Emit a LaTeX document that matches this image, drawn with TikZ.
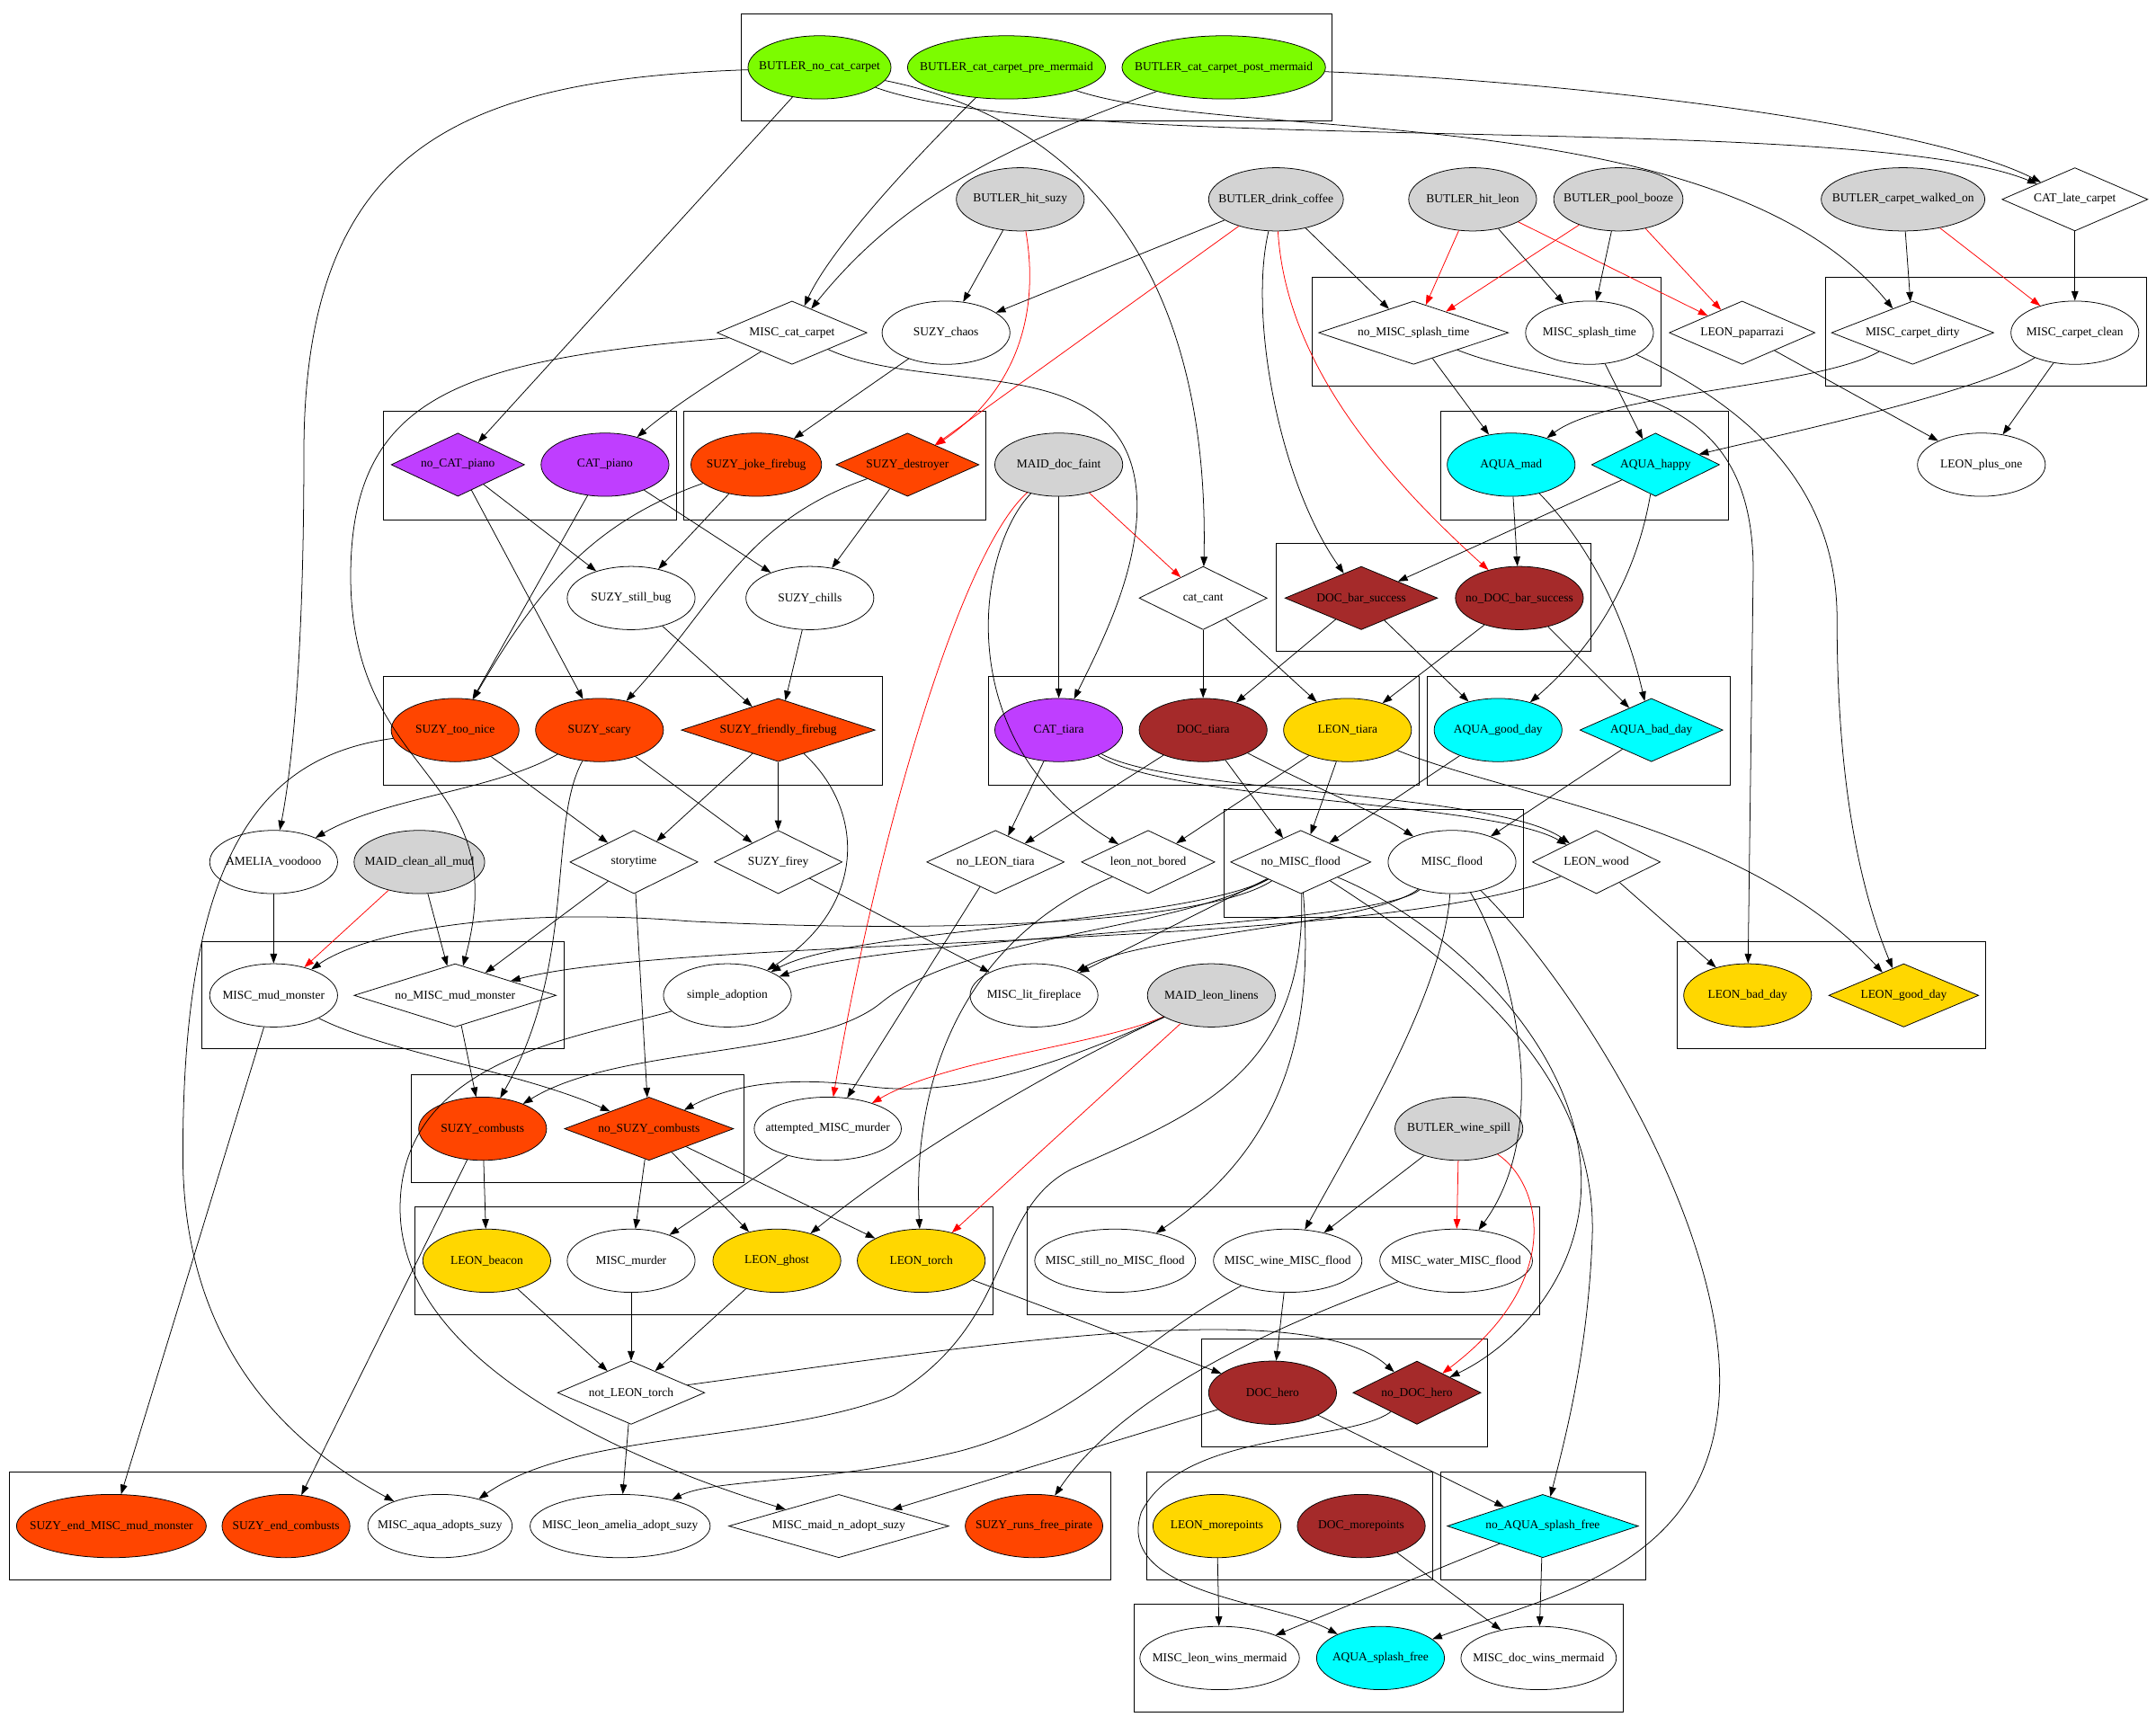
\documentclass[tikz,border=0pt]{standalone}
\usepackage{fontspec}
\setmainfont{Liberation Serif}
\usetikzlibrary{shapes.geometric,arrows.meta}
\definecolor{grn}{HTML}{7CFC00}
\definecolor{gry}{HTML}{D3D3D3}
\definecolor{pur}{HTML}{BF3EFF}
\definecolor{org}{HTML}{FF4500}
\definecolor{brn}{HTML}{A52A2A}
\definecolor{gld}{HTML}{FFD700}
\definecolor{cyn}{HTML}{00FFFF}
\newcommand\lbl[1]{\makebox[0pt]{#1}}
\begin{document}
\begin{tikzpicture}[x=1pt,y=-1pt,
  ell/.style={ellipse,draw,line width=0.5pt,inner sep=0pt,minimum height=46pt,minimum width=93pt,font=\fontsize{8.8}{10}\selectfont},
  dia/.style={diamond,draw,line width=0.5pt,inner sep=0pt,aspect=2,minimum height=46pt,minimum width=93pt,font=\fontsize{8.8}{10}\selectfont},
  cl/.style={draw,line width=0.6pt},
  e/.style={draw,line width=0.5pt,-{Triangle[length=7pt,width=5pt]}},
  r/.style={e,red}]
\fill[white] (0,0) rectangle (1568,1255);
\useasboundingbox (0,0) rectangle (1568,1255);
% clusters
\draw[cl] (539,10) rectangle (969,88);
\draw[cl] (954,202) rectangle (1208,281);
\draw[cl] (1327.5,202) rectangle (1561,281);
\draw[cl] (279,299) rectangle (492,378);
\draw[cl] (497,299) rectangle (717,378);
\draw[cl] (1048,299) rectangle (1257,378);
\draw[cl] (928,395.5) rectangle (1157,474);
\draw[cl] (279,492) rectangle (642,571);
\draw[cl] (719,492) rectangle (1032,571);
\draw[cl] (1038,492) rectangle (1258.5,571);
\draw[cl] (890,588.5) rectangle (1108,667);
\draw[cl] (147,685) rectangle (410,763);
\draw[cl] (1219.5,685) rectangle (1444,763);
\draw[cl] (299,781.5) rectangle (541,860);
\draw[cl] (302,877.6) rectangle (722,956);
\draw[cl] (747,877.6) rectangle (1119.5,956);
\draw[cl] (874,974) rectangle (1082,1052.6);
\draw[cl] (7,1070.5) rectangle (808,1149);
\draw[cl] (834,1070.5) rectangle (1042,1149);
\draw[cl] (1048,1070.5) rectangle (1197,1149);
\draw[cl] (825,1167) rectangle (1180.5,1245);
% nodes
\node[ell,fill=grn,minimum width=104pt] (BNCC) at (596,49) {\lbl{BUTLER\_no\_cat\_carpet}};
\node[ell,fill=grn,minimum width=144pt] (BCPRE) at (732,49) {\lbl{BUTLER\_cat\_carpet\_pre\_mermaid}};
\node[ell,fill=grn,minimum width=148pt] (BCPOST) at (890,49) {\lbl{BUTLER\_cat\_carpet\_post\_mermaid}};
\node[ell,fill=gry] (BHS) at (742,145) {\lbl{BUTLER\_hit\_suzy}};
\node[ell,fill=gry,minimum width=98pt] (BDC) at (928,145) {\lbl{BUTLER\_drink\_coffee}};
\node[ell,fill=gry] (BHL) at (1071,145) {\lbl{BUTLER\_hit\_leon}};
\node[ell,fill=gry,minimum width=94pt] (BPB) at (1177,145) {\lbl{BUTLER\_pool\_booze}};
\node[ell,fill=gry,minimum width=119pt] (BCW) at (1384,145) {\lbl{BUTLER\_carpet\_walked\_on}};
\node[dia,minimum width=106pt] (CLC) at (1509,145) {\lbl{CAT\_late\_carpet}};
\node[dia,minimum width=109pt] (MCC) at (576,242) {\lbl{MISC\_cat\_carpet}};
\node[ell] (SCH) at (688,242) {\lbl{SUZY\_chaos}};
\node[dia,minimum width=138pt] (NMST) at (1028,242) {\lbl{no\_MISC\_splash\_time}};
\node[ell] (MST) at (1156,242) {\lbl{MISC\_splash\_time}};
\node[dia,minimum width=106pt] (LP) at (1267,242) {\lbl{LEON\_paparrazi}};
\node[dia,minimum width=118pt] (MCD) at (1391,242) {\lbl{MISC\_carpet\_dirty}};
\node[ell] (MCCL) at (1509,242) {\lbl{MISC\_carpet\_clean}};
\node[dia,fill=pur,minimum width=97pt] (NCP) at (333,338) {\lbl{no\_CAT\_piano}};
\node[ell,fill=pur] (CP) at (440,338) {\lbl{CAT\_piano}};
\node[ell,fill=org,minimum width=95pt] (SJF) at (550,338) {\lbl{SUZY\_joke\_firebug}};
\node[dia,fill=org,minimum width=104pt] (SD) at (660,338) {\lbl{SUZY\_destroyer}};
\node[ell,fill=gry] (MDF) at (770,338) {\lbl{MAID\_doc\_faint}};
\node[ell,fill=cyn] (AM) at (1099,338) {\lbl{AQUA\_mad}};
\node[dia,fill=cyn] (AH) at (1204,338) {\lbl{AQUA\_happy}};
\node[ell] (LPO) at (1441,338) {\lbl{LEON\_plus\_one}};
\node[ell] (SSB) at (459,435) {\lbl{SUZY\_still\_bug}};
\node[ell] (SCL) at (589,435) {\lbl{SUZY\_chills}};
\node[dia] (CC) at (875,435) {\lbl{cat\_cant}};
\node[dia,fill=brn,minimum width=111pt] (DBS) at (990,435) {\lbl{DOC\_bar\_success}};
\node[ell,fill=brn] (NDBS) at (1105,435) {\lbl{no\_DOC\_bar\_success}};
\node[ell,fill=org] (STN) at (331,531) {\lbl{SUZY\_too\_nice}};
\node[ell,fill=org] (SS) at (436,531) {\lbl{SUZY\_scary}};
\node[dia,fill=org,minimum width=141pt] (SFF) at (566,531) {\lbl{SUZY\_friendly\_firebug}};
\node[ell,fill=pur] (CT) at (770,531) {\lbl{CAT\_tiara}};
\node[ell,fill=brn] (DT) at (875,531) {\lbl{DOC\_tiara}};
\node[ell,fill=gld] (LT) at (980,531) {\lbl{LEON\_tiara}};
\node[ell,fill=cyn] (AGD) at (1089.5,531) {\lbl{AQUA\_good\_day}};
\node[dia,fill=cyn,minimum width=104pt] (ABD) at (1201,531) {\lbl{AQUA\_bad\_day}};
\node[ell] (AV) at (199,627) {\lbl{AMELIA\_voodooo}};
\node[ell,fill=gry,minimum width=95pt] (MCAM) at (305,627) {\lbl{MAID\_clean\_all\_mud}};
\node[dia] (ST) at (461,627) {\lbl{storytime}};
\node[dia] (SF) at (566,627) {\lbl{SUZY\_firey}};
\node[dia,minimum width=100pt] (NLT) at (724,627) {\lbl{no\_LEON\_tiara}};
\node[dia,minimum width=97pt] (LNB) at (835,627) {\lbl{leon\_not\_bored}};
\node[dia,minimum width=102pt] (NMF) at (946,627) {\lbl{no\_MISC\_flood}};
\node[ell] (MF) at (1056,627) {\lbl{MISC\_flood}};
\node[dia] (LW) at (1161,627) {\lbl{LEON\_wood}};
\node[ell] (MMM) at (199,724) {\lbl{MISC\_mud\_monster}};
\node[dia,minimum width=147pt] (NMMM) at (331,724) {\lbl{no\_MISC\_mud\_monster}};
\node[ell] (SA) at (529,724) {\lbl{simple\_adoption}};
\node[ell] (MLF) at (752,724) {\lbl{MISC\_lit\_fireplace}};
\node[ell,fill=gry] (MLL) at (881,724) {\lbl{MAID\_leon\_linens}};
\node[ell,fill=gld] (LBD) at (1271,724) {\lbl{LEON\_bad\_day}};
\node[dia,fill=gld,minimum width=109pt] (LGD) at (1384.5,724) {\lbl{LEON\_good\_day}};
\node[ell,fill=org] (SCO) at (351,821) {\lbl{SUZY\_combusts}};
\node[dia,fill=org,minimum width=123pt] (NSC) at (472,821) {\lbl{no\_SUZY\_combusts}};
\node[ell,minimum width=107pt] (AMM) at (602,821) {\lbl{attempted\_MISC\_murder}};
\node[ell,fill=gry] (BWS) at (1061,821) {\lbl{BUTLER\_wine\_spill}};
\node[ell,fill=gld] (LB) at (354,917) {\lbl{LEON\_beacon}};
\node[ell] (MMU) at (459,917) {\lbl{MISC\_murder}};
\node[ell,fill=gld] (LG) at (565,917) {\lbl{LEON\_ghost}};
\node[ell,fill=gld] (LTO) at (670,917) {\lbl{LEON\_torch}};
\node[ell,minimum width=117pt] (MSNF) at (811,917) {\lbl{MISC\_still\_no\_MISC\_flood}};
\node[ell,minimum width=108pt] (MWIF) at (936.5,917) {\lbl{MISC\_wine\_MISC\_flood}};
\node[ell,minimum width=111pt] (MWAF) at (1059,917) {\lbl{MISC\_water\_MISC\_flood}};
\node[dia,minimum width=107pt] (NLTO) at (459,1013) {\lbl{not\_LEON\_torch}};
\node[ell,fill=brn] (DH) at (925.5,1013) {\lbl{DOC\_hero}};
\node[dia,fill=brn] (NDH) at (1030.5,1013) {\lbl{no\_DOC\_hero}};
\node[ell,fill=org,minimum width=138pt] (SEMM) at (81,1110) {\lbl{SUZY\_end\_MISC\_mud\_monster}};
\node[ell,fill=org] (SEC) at (208,1110) {\lbl{SUZY\_end\_combusts}};
\node[ell,minimum width=105pt] (MAAS) at (320,1110) {\lbl{MISC\_aqua\_adopts\_suzy}};
\node[ell,minimum width=131pt] (MLAAS) at (451,1110) {\lbl{MISC\_leon\_amelia\_adopt\_suzy}};
\node[dia,minimum width=160pt] (MMNAS) at (610,1110) {\lbl{MISC\_maid\_n\_adopt\_suzy}};
\node[ell,fill=org,minimum width=100pt] (SRFP) at (752,1110) {\lbl{SUZY\_runs\_free\_pirate}};
\node[ell,fill=gld] (LM) at (885,1110) {\lbl{LEON\_morepoints}};
\node[ell,fill=brn] (DM) at (990,1110) {\lbl{DOC\_morepoints}};
\node[dia,fill=cyn,minimum width=139pt] (NASF) at (1122,1110) {\lbl{no\_AQUA\_splash\_free}};
\node[ell,minimum width=116pt] (MLWM) at (887,1206) {\lbl{MISC\_leon\_wins\_mermaid}};
\node[ell,fill=cyn] (ASF) at (1004,1206) {\lbl{AQUA\_splash\_free}};
\node[ell,minimum width=113pt] (MDWM) at (1119,1206) {\lbl{MISC\_doc\_wins\_mermaid}};
% edges from top row
\draw[e] (BNCC) -- (NCP);
\draw[e] (BNCC) .. controls (330,58) and (221,110) .. (221,330) .. controls (221,480) and (212,560) .. (AV);
\draw[e] (BNCC) .. controls (790,88) and (880,200) .. (CC);
\draw[e] (BNCC) .. controls (780,115) and (1350,80) .. (CLC);
\draw[e] (BCPOST) .. controls (1150,60) and (1400,90) .. (CLC);
\draw[e] (BCPRE) .. controls (900,105) and (1250,70) .. (MCD);
\draw[e] (BCPRE) .. controls (640,140) and (600,190) .. (MCC);
\draw[e] (BCPOST) .. controls (720,110) and (650,150) .. (MCC);
\draw[e] (BHS) -- (SCH);
\draw[r] (BHS) .. controls (755,220) and (745,280) .. (SD);
\draw[e] (BDC) -- (SCH);
\draw[r] (BDC) -- (SD);
\draw[e] (BDC) -- (NMST);
\draw[e] (BDC) .. controls (908,230) and (930,350) .. (DBS);
\draw[r] (BDC) .. controls (935,260) and (1000,340) .. (NDBS);
\draw[r] (BHL) -- (NMST);
\draw[e] (BHL) -- (MST);
\draw[r] (BHL) -- (LP);
\draw[r] (BPB) -- (NMST);
\draw[e] (BPB) -- (MST);
\draw[r] (BPB) -- (LP);
\draw[e] (BCW) -- (MCD);
\draw[r] (BCW) -- (MCCL);
\draw[e] (CLC) -- (MCCL);
% row 242
\draw[e] (MCC) .. controls (530,270) and (490,295) .. (CP);
\draw[e] (MCC) .. controls (330,262) and (255,290) .. (255,420) .. controls (256,570) and (375,560) .. (NMMM);
\draw[e] (MCC) .. controls (680,290) and (828,250) .. (827,370) .. controls (826,420) and (800,470) .. (CT);
\draw[e] (SCH) -- (SJF);
\draw[e] (NMST) -- (AM);
\draw[e] (NMST) .. controls (1150,290) and (1278,265) .. (1275,420) -- (LBD);
\draw[e] (MST) -- (AH);
\draw[e] (MST) .. controls (1280,300) and (1336,360) .. (1336,450) .. controls (1336,560) and (1350,640) .. (LGD);
\draw[e] (LP) -- (LPO);
\draw[e] (MCD) .. controls (1320,282) and (1170,285) .. (AM);
\draw[e] (MCCL) .. controls (1440,285) and (1300,315) .. (AH);
\draw[e] (MCCL) -- (LPO);
% row 338
\draw[e] (NCP) -- (SSB);
\draw[e] (NCP) -- (SS);
\draw[e] (CP) -- (STN);
\draw[e] (CP) -- (SCL);
\draw[e] (SJF) .. controls (430,380) and (390,430) .. (STN);
\draw[e] (SJF) -- (SSB);
\draw[e] (SD) -- (SCL);
\draw[e] (SD) .. controls (540,380) and (520,440) .. (SS);
\draw[r] (MDF) .. controls (700,400) and (640,600) .. (AMM);
\draw[e] (MDF) -- (CT);
\draw[e] (MDF) .. controls (710,400) and (690,540) .. (LNB);
\draw[r] (MDF) -- (CC);
\draw[e] (AM) -- (NDBS);
\draw[e] (AM) .. controls (1150,390) and (1180,440) .. (ABD);
\draw[e] (AH) -- (DBS);
\draw[e] (AH) .. controls (1190,420) and (1160,470) .. (AGD);
% row 435
\draw[e] (SSB) -- (SFF);
\draw[e] (SCL) -- (SFF);
\draw[e] (CC) -- (DT);
\draw[e] (CC) -- (LT);
\draw[e] (DBS) -- (DT);
\draw[e] (DBS) -- (AGD);
\draw[e] (NDBS) -- (LT);
\draw[e] (NDBS) -- (ABD);
% row 531
\draw[e] (STN) -- (ST);
\draw[e] (STN) .. controls (190,550) and (133,620) .. (133,840) .. controls (133,960) and (190,1040) .. (MAAS);
\draw[e] (SS) .. controls (360,575) and (280,580) .. (AV);
\draw[e] (SS) -- (SF);
\draw[e] (SS) .. controls (398,600) and (420,700) .. (SCO);
\draw[e] (SFF) -- (ST);
\draw[e] (SFF) -- (SF);
\draw[e] (SFF) .. controls (630,590) and (630,660) .. (SA);
\draw[e] (CT) -- (NLT);
\draw[e] (CT) .. controls (850,583) and (1085,583) .. (LW);
\draw[e] (CT) .. controls (852,577) and (1088,576) .. (LW);
\draw[e] (DT) -- (NLT);
\draw[e] (DT) -- (NMF);
\draw[e] (DT) .. controls (960,575) and (1000,590) .. (MF);
\draw[e] (LT) -- (LNB);
\draw[e] (LT) -- (NMF);
\draw[e] (LT) .. controls (1100,580) and (1270,600) .. (LGD);
\draw[e] (AGD) -- (NMF);
\draw[e] (ABD) -- (MF);
% row 627
\draw[e] (AV) -- (MMM);
\draw[r] (MCAM) -- (MMM);
\draw[e] (MCAM) -- (NMMM);
\draw[e] (ST) -- (NMMM);
\draw[e] (ST) -- (NSC);
\draw[e] (SF) -- (MLF);
\draw[e] (NLT) -- (AMM);
\draw[e] (LNB) .. controls (720,675) and (662,760) .. (LTO);
\draw[e] (NMF) .. controls (880,670) and (700,680) .. (500,670) .. controls (380,660) and (270,675) .. (MMM);
\draw[e] (NMF) .. controls (860,672) and (620,675) .. (SA);
\draw[e] (NMF) -- (MLF);
\draw[e] (NMF) .. controls (850,678) and (700,680) .. (640,730) .. controls (590,770) and (450,760) .. (SCO);
\draw[e] (MF) .. controls (1000,675) and (650,680) .. (SA);
\draw[e] (MF) .. controls (1000,672) and (830,680) .. (MLF);
\draw[e] (MF) .. controls (1050,720) and (990,820) .. (MWIF);
\draw[e] (MF) .. controls (1100,700) and (1130,820) .. (MWAF);
\draw[e] (MF) .. controls (1150,720) and (1260,900) .. (1250,1020) .. controls (1240,1140) and (1130,1160) .. (ASF);
\draw[e] (LW) -- (LBD);
\draw[e] (LW) .. controls (1000,692) and (500,680) .. (NMMM);
\draw[e] (NMF) .. controls (955,740) and (940,830) .. (MSNF);
\draw[e] (NMF) .. controls (950,780) and (870,810) .. (780,850) .. controls (720,880) and (740,960) .. (650,1015) .. controls (560,1050) and (420,1040) .. (MAAS);
\draw[e] (NMF) .. controls (1050,670) and (1150,760) .. (1150,860) .. controls (1150,930) and (1100,980) .. (NDH);
\draw[e] (NMF) .. controls (1060,700) and (1162,780) .. (1158,900) .. controls (1155,980) and (1140,1040) .. (NASF);
% row 724
\draw[e] (MMM) -- (SEMM);
\draw[e] (MMM) .. controls (280,765) and (380,780) .. (NSC);
\draw[e] (NMMM) -- (SCO);
\draw[e] (SA) .. controls (420,755) and (290,770) .. (291,880) .. controls (292,990) and (450,1060) .. (MMNAS);
\draw[r] (MLL) .. controls (800,760) and (690,770) .. (AMM);
\draw[e] (MLL) .. controls (780,770) and (700,800) .. (630,790) .. controls (570,782) and (530,790) .. (NSC);
\draw[e] (MLL) .. controls (760,780) and (660,840) .. (LG);
\draw[r] (MLL) -- (LTO);
% row 821
\draw[e] (AMM) -- (MMU);
\draw[e] (BWS) -- (MWIF);
\draw[r] (BWS) -- (MWAF);
\draw[r] (BWS) .. controls (1120,860) and (1140,930) .. (NDH);
\draw[e] (SCO) -- (LB);
\draw[e] (SCO) -- (SEC);
\draw[e] (NSC) -- (MMU);
\draw[e] (NSC) -- (LG);
\draw[e] (NSC) -- (LTO);
% row 917
\draw[e] (LB) -- (NLTO);
\draw[e] (MMU) -- (NLTO);
\draw[e] (LG) -- (NLTO);
\draw[e] (LTO) -- (DH);
\draw[e] (MWIF) -- (DH);
\draw[e] (MWIF) .. controls (820,980) and (790,1030) .. (700,1055) .. controls (600,1080) and (520,1075) .. (MLAAS);
\draw[e] (MWAF) .. controls (940,960) and (820,1010) .. (SRFP);
% row 1013
\draw[e] (NLTO) -- (MLAAS);
\draw[e] (NLTO) .. controls (700,980) and (950,940) .. (NDH);
\draw[e] (DH) -- (MMNAS);
\draw[e] (DH) -- (NASF);
\draw[e] (NDH) .. controls (980,1050) and (860,1040) .. (830,1100) .. controls (810,1160) and (930,1165) .. (ASF);
% row 1110
\draw[e] (LM) -- (MLWM);
\draw[e] (DM) -- (MDWM);
\draw[e] (NASF) -- (MLWM);
\draw[e] (NASF) -- (MDWM);
\end{tikzpicture}
\end{document}
